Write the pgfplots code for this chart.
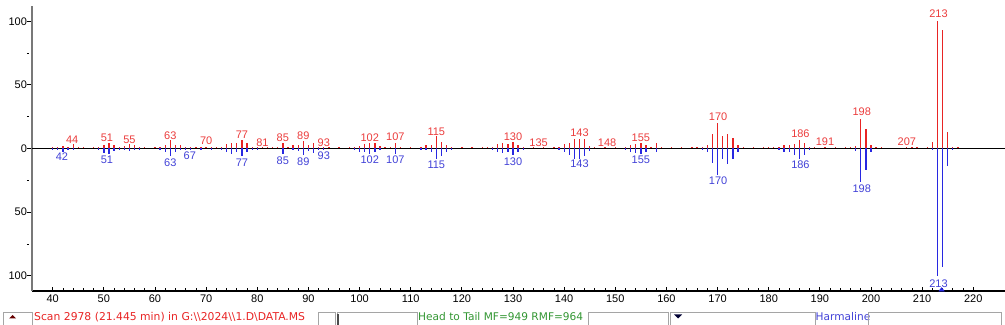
\documentclass[border=0pt]{standalone}
\usepackage{fontspec}
\setmainfont{Liberation Sans}
\newfontfamily\statfont{DejaVu Sans}
\usepackage{pgfplots}
\usepackage{pgfplotstable}
\pgfplotsset{compat=1.18}
\definecolor{pkred}{RGB}{232,36,36}
\definecolor{pkblue}{RGB}{40,40,225}
\definecolor{lbred}{RGB}{235,60,60}
\definecolor{lbblue}{RGB}{65,65,215}
\definecolor{stgreen}{RGB}{50,150,50}
\definecolor{axgray}{RGB}{120,120,120}
\definecolor{boxgray}{RGB}{165,165,165}
\pgfplotstableread{
mz y
40 1.5
41 1.5
42 2
43 1.5
44 3.5
45 1.5
46 1
48 1
49 1.5
50 3
51 4
52 3
53 1.5
54 2
55 3.5
56 2.5
57 1.5
58 1.5
60 1
61 1.5
62 3
63 6.5
64 3
65 2.5
66 1.5
67 1.5
68 1
69 1.5
70 1.5
71 1.5
72 1.5
73 1.5
74 3.5
75 4
76 4.5
77 7
78 4
79 1.5
80 1.5
81 1.5
82 1
83 1
84 1
85 4
86 1.5
87 3
88 2.5
89 6
90 3
91 4.5
92 1.5
93 1.5
94 1
96 1
98 1
99 1.5
100 2
101 3.5
102 4.5
103 4
104 2
105 1
106 1
107 4.5
108 1
110 1
112 1
113 2.5
114 3
115 9.5
116 5
117 3
118 1
120 1
122 1
124 1
125 1
126 1
127 3.5
128 4
129 3.5
130 5
131 3
132 1.5
134 1
136 1
138 1
139 1.5
140 3.5
141 4
142 7.5
143 7.5
144 7.5
145 2
146 1
148 1
150 1
152 1
153 2.5
154 3.5
155 4
156 3
157 1
158 4
159 1
161 1
163 1
165 1
166 1
167 1.5
168 3
169 11.5
170 20
171 9.5
172 11.5
173 8.5
174 3
175 1
177 1
179 1
180 1
181 1
182 1.5
183 2.5
184 3
185 3.5
186 7
187 4
188 1.5
189 1
191 1
193 1
195 1
196 1
197 2
198 23.5
199 15
200 3
201 1
202 1
207 1
208 1
209 1
211 1.5
212 5.5
213 100
214 93
215 13
216 1.5
217 1
}\redtab
\pgfplotstableread{
mz y
40 -1
41 -1
42 -2.5
43 -1
44 -1
49 -1
50 -3.5
51 -4
52 -2
53 -1
54 -1.5
55 -2
56 -1.5
57 -1
61 -1
62 -3
63 -6
64 -3
65 -1.5
66 -1
67 -1
69 -1
71 -1
73 -1.5
74 -3
75 -4
76 -3
77 -6
78 -3
79 -1
80 -1
85 -4.5
87 -1.5
88 -2
89 -5
90 -2
91 -3.5
92 -1
93 -1.5
99 -1
100 -3
101 -2.5
102 -4
103 -3
104 -1.5
107 -4.5
112 -1
113 -1.5
114 -3
115 -8.5
116 -6
117 -3
118 -1
126 -1
127 -3
128 -3.5
129 -3
130 -5
131 -2.5
132 -1
139 -1
140 -3
141 -5
142 -8.5
143 -8.5
144 -6
145 -2
152 -1
153 -2.5
154 -3.5
155 -4.5
156 -3
158 -3
167 -1
168 -3
169 -11.5
170 -20.5
171 -8.5
172 -12
173 -8.5
174 -3
182 -1
183 -2.5
184 -3
185 -5
186 -8
187 -5
188 -1.5
197 -2
198 -26
199 -17
200 -3
212 -1
213 -100
214 -93
215 -14
216 -1
}\bluetab
\pgfplotstableread{
x y lab
43.8 7.1 44
50.6 8.6 51
55 6.5 55
63 10.4 63
70 6 70
77 11.2 77
81 4.7 81
85 8.6 85
89 9.7 89
93 4.4 93
102 8.6 102
107 9.1 107
115 13 115
130 9.1 130
135 4.7 135
143 12.3 143
148.4 4.7 148
155 8.6 155
170.1 24.8 170
186.2 11.8 186
191 5.2 191
198.2 28.8 198
207 5.7 207
213.2 106 213
}\redlab
\pgfplotstableread{
x y lab
41.8 -6.6 42
50.6 -8.6 51
63 -11.3 63
66.8 -5.5 67
77 -11.3 77
85 -9.7 85
89 -10.2 89
93 -5.3 93
102 -9.2 102
107 -9.2 107
115 -13.1 115
130 -10 130
143 -12.3 143
155 -9.2 155
170.1 -25.7 170
186.2 -12.6 186
198.2 -31.4 198
213.2 -106 213
}\bluelab
\begin{document}
\begin{tikzpicture}
\useasboundingbox (0,0) rectangle (1005bp,325bp);
\begin{axis}[
  at={(32bp,34bp)}, anchor=south west,
  scale only axis, width=973bp, height=285bp,
  xmin=35.95, xmax=226.2, ymin=-112, ymax=112,
  axis x line*=bottom, axis y line*=left,
  x axis line style={black, line width=1.1bp},
  y axis line style={axgray, line width=2.4bp},
  clip=false,
  xtick={40,50,...,220},
  minor x tick num=4,
  ytick={-100,-50,0,50,100},
  yticklabels={100,50,0,50,100},
  minor ytick={-75,-25,25,75},
  tick align=inside,
  major tick length=4bp, minor tick length=2.5bp,
  xtick style={black, line width=0.8bp},
  ytick style={black, line width=0.8bp, xshift=-5bp},
  /pgf/number format/assume math mode=true,
  ticklabel style={font=\fontsize{11bp}{13bp}\selectfont, text=black},
  xticklabel style={yshift=-0.5bp},
  yticklabel style={xshift=-1.5bp},
  scaled ticks=false,
]
\addplot[black, line width=0.8bp] coordinates {(35.95,0) (226.2,0)};
\addplot[ycomb, mark=none, pkred, line width=1.3bp] table[x=mz,y=y] {\redtab};
\addplot[ycomb, mark=none, pkblue, line width=1.3bp] table[x=mz,y=y] {\bluetab};
\addplot[draw=none, mark=none, nodes near coords, point meta=explicit symbolic,
  nodes near coords style={anchor=center, inner sep=0pt, text=lbred, font=\fontsize{11bp}{13bp}\selectfont}]
  table[x=x,y=y,meta=lab] {\redlab};
\addplot[draw=none, mark=none, nodes near coords, point meta=explicit symbolic,
  nodes near coords style={anchor=center, inner sep=0pt, text=lbblue, font=\fontsize{11bp}{13bp}\selectfont}]
  table[x=x,y=y,meta=lab] {\bluelab};
\addplot[only marks, mark=triangle*, mark size=3.2bp, color=pkblue,
  mark options={yscale=0.75}] coordinates {(213.8,-111.2)};
\end{axis}
% status bar
\draw[boxgray, line width=0.8bp] (3bp,-3bp) rectangle (32bp,13bp);
\fill[black!60!red] (9bp,6.5bp) -- (16bp,6.5bp) -- (12.5bp,10bp) -- cycle;
\node[anchor=west, inner sep=0pt, text=pkred, font=\statfont\fontsize{10.8bp}{13bp}\selectfont] at (34bp,8bp) {Scan 2978 (21.445 min) in G:\textbackslash\textbackslash 2024\textbackslash\textbackslash 1.D\textbackslash DATA.MS};
\draw[boxgray, line width=0.8bp] (318bp,-3bp) rectangle (335bp,13bp);
\draw[boxgray, line width=0.8bp] (337bp,-3bp) rectangle (417bp,13bp);
\draw[black!70, line width=1.2bp] (338bp,0bp) -- (338bp,11bp);
\node[anchor=west, inner sep=0pt, text=stgreen, font=\statfont\fontsize{10.6bp}{13bp}\selectfont] at (418bp,8bp) {Head to Tail MF=949 RMF=964};
\draw[boxgray, line width=0.8bp] (588bp,-3bp) rectangle (668bp,13bp);
\draw[boxgray, line width=0.8bp] (670bp,-3bp) rectangle (815bp,13bp);
\fill[black!80!blue] (674bp,10.5bp) -- (682bp,10.5bp) -- (678bp,6.5bp) -- cycle;
\node[anchor=west, inner sep=0pt, text=lbblue, font=\statfont\fontsize{10.6bp}{13bp}\selectfont] at (815.5bp,8bp) {Harmaline};
\draw[boxgray, line width=0.8bp] (868bp,-3bp) rectangle (1001bp,13bp);
\end{tikzpicture}
\end{document}
